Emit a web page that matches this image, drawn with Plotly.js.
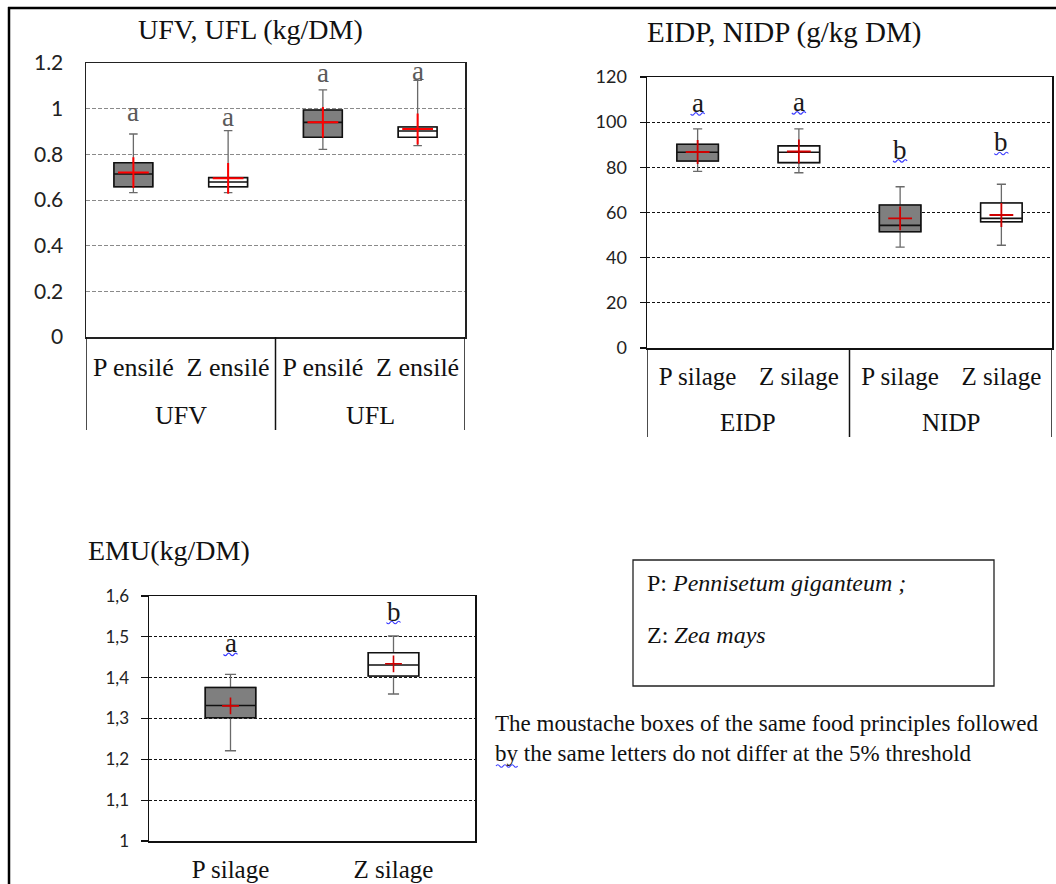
<!DOCTYPE html>
<html>
<head>
<meta charset="utf-8">
<script src="https://cdn.plot.ly/plotly-3.0.1.min.js"></script>
<style>
  html, body { margin: 0; padding: 0; background: #ffffff; }
  #chart { width: 1056px; height: 884px; }
</style>
</head>
<body>
<div id="chart"></div>
<script>
// ---------------- DATA ----------------
// Chart 1 : UFV, UFL (kg/DM)
const ufTitle = 'UFV, UFL (kg/DM)';
const ufCategories = ['P ensilé', 'Z ensilé', 'P ensilé', 'Z ensilé'];
const ufGroups = ['UFV', 'UFL'];
const ufLow    = [0.632, 0.632, 0.822, 0.838];
const ufQ1     = [0.658, 0.658, 0.875, 0.875];
const ufMedian = [0.714, 0.679, 0.940, 0.902];
const ufQ3     = [0.763, 0.698, 0.994, 0.920];
const ufHigh   = [0.889, 0.904, 1.082, 1.124];
const ufMean   = [0.720, 0.695, 0.940, 0.911];
const ufLetters = ['a', 'a', 'a', 'a'];
const ufLetterY = [0.985, 0.965, 1.157, 1.163];

// Chart 2 : EIDP, NIDP (g/kg DM)
const dpTitle = 'EIDP, NIDP (g/kg DM)';
const dpCategories = ['P silage', 'Z silage', 'P silage', 'Z silage'];
const dpGroups = ['EIDP', 'NIDP'];
const dpLow    = [78.2, 77.6, 44.7, 45.5];
const dpQ1     = [82.8, 82.1, 51.5, 55.9];
const dpMedian = [86.7, 86.7, 54.3, 57.4];
const dpQ3     = [90.2, 89.5, 63.3, 64.2];
const dpHigh   = [97.0, 97.0, 71.4, 72.5];
const dpMean   = [86.8, 87.0, 57.4, 58.9];
const dpLetters = ['a', 'a', 'b', 'b'];
const dpLetterY = [108.5, 109.0, 87.7, 91.0];

// Chart 3 : EMU (kg/DM)
const emuTitle = 'EMU(kg/DM)';
const emuCategories = ['P silage', 'Z silage'];
const emuLow    = [1.221, 1.360];
const emuQ1     = [1.302, 1.404];
const emuMedian = [1.332, 1.431];
const emuQ3     = [1.376, 1.461];
const emuHigh   = [1.408, 1.502];
const emuMean   = [1.331, 1.434];
const emuLetters = ['a', 'b'];
const emuLetterY = [1.484, 1.562];
const emuTickVals = [1, 1.1, 1.2, 1.3, 1.4, 1.5, 1.6];
const emuTickText = ['1', '1,1', '1,2', '1,3', '1,4', '1,5', '1,6'];

// Legend / notes
const legendLines = ['P: <i>Pennisetum giganteum ;</i>', 'Z: <i>Zea mays</i>'];
const noteLines = ['The moustache boxes of the same food principles followed',
                   'by the same letters do not differ at the 5% threshold'];

// ---------------- HELPERS ----------------
const W = 1056, H = 884;
const px = v => v / W;
const py = v => 1 - v / H;
const SERIF = 'Liberation Serif, serif';
const SANS = 'Lato, sans-serif';
const GRAYFILL = '#7f7f7f';

const traces = [];
const annotations = [];
const shapes = [];

function addBoxes(xa, ya, cats, low, q1, med, q3, high, mean, width, whiskerColor, meanColor, meanSize, meanWidth) {
  const idx = cats.map((c, i) => i);
  ['P', 'Z'].forEach(sp => {
    const sel = idx.filter(i => cats[i].charAt(0) === sp);
    const pick = arr => sel.map(i => arr[i]);
    const fill = sp === 'P' ? GRAYFILL : '#ffffff';
    // whiskers (grey)
    traces.push({
      type: 'box', xaxis: xa, yaxis: ya, x: sel,
      lowerfence: pick(low), q1: pick(q1), median: pick(med), q3: pick(q3), upperfence: pick(high),
      width: width, whiskerwidth: 0.22, fillcolor: fill,
      line: { color: whiskerColor, width: 1.3 }, boxpoints: false, showlegend: false, hoverinfo: 'skip'
    });
    // box body (black outline)
    traces.push({
      type: 'box', xaxis: xa, yaxis: ya, x: sel,
      lowerfence: pick(q1), q1: pick(q1), median: pick(med), q3: pick(q3), upperfence: pick(q3),
      width: width, whiskerwidth: 0, fillcolor: fill,
      line: { color: '#111111', width: 1.6 }, boxpoints: false, showlegend: false, hoverinfo: 'skip'
    });
  });
  traces.push({
    type: 'scatter', mode: 'markers', xaxis: xa, yaxis: ya, x: idx, y: mean,
    marker: { symbol: 'cross-thin', size: meanSize, color: meanColor, line: { color: meanColor, width: meanWidth } },
    showlegend: false, hoverinfo: 'skip'
  });
}

function addLetters(xr, yr, letters, ys, color, squiggle) {
  letters.forEach((t, i) => {
    annotations.push({
      xref: xr, yref: yr, x: i, y: ys[i], text: t, showarrow: false,
      xanchor: 'center', yanchor: 'middle',
      font: { family: SERIF, size: 27, color: color }
    });
    if (squiggle) {
      shapes.push({
        type: 'path', xref: xr, yref: yr, xsizemode: 'pixel', ysizemode: 'pixel',
        xanchor: i, yanchor: ys[i],
        path: 'M-7,-11 Q-5.25,-13.5 -3.5,-11 T0,-11 T3.5,-11 T7,-11',
        line: { color: '#3a3aff', width: 1.2 }
      });
    }
  });
}

// group labels + dividers
function groupTable(xr, groups, perGroup, topPix, bottomPix, labelPix, size) {
  groups.forEach((g, gi) => {
    annotations.push({
      xref: xr, yref: 'paper', x: gi * perGroup + (perGroup - 1) / 2, y: py(labelPix), text: g,
      showarrow: false, xanchor: 'center', yanchor: 'middle',
      font: { family: SERIF, size: size, color: '#111' }
    });
  });
  for (let gi = 0; gi <= groups.length; gi++) {
    shapes.push({
      type: 'line', xref: xr, yref: 'paper', x0: gi * perGroup - 0.5, x1: gi * perGroup - 0.5,
      y0: py(topPix), y1: py(bottomPix), line: { color: '#111', width: 1.5 }
    });
  }
}

// ---------------- CHART 1 ----------------
addBoxes('x', 'y', ufCategories, ufLow, ufQ1, ufMedian, ufQ3, ufHigh, ufMean, 0.41, '#6a6a6a', '#ff0000', 22, 2);
addLetters('x', 'y', ufLetters, ufLetterY, '#5a5a5a', false);
groupTable('x', ufGroups, 2, 337, 430, 415, 26);

// ---------------- CHART 2 ----------------
addBoxes('x2', 'y2', dpCategories, dpLow, dpQ1, dpMedian, dpQ3, dpHigh, dpMean, 0.41, '#6a6a6a', '#d00000', 17, 1.8);
addLetters('x2', 'y2', dpLetters, dpLetterY, '#1a1a1a', true);
groupTable('x2', dpGroups, 2, 348, 437, 422, 25);

// ---------------- CHART 3 ----------------
addBoxes('x3', 'y3', emuCategories, emuLow, emuQ1, emuMedian, emuQ3, emuHigh, emuMean, 0.31, '#6a6a6a', '#d00000', 12, 1.6);
addLetters('x3', 'y3', emuLetters, emuLetterY, '#1a1a1a', true);

// titles
annotations.push({ xref: 'paper', yref: 'paper', x: px(250), y: py(30), text: ufTitle, showarrow: false,
  xanchor: 'center', yanchor: 'middle', font: { family: SERIF, size: 28, color: '#111' } });
annotations.push({ xref: 'paper', yref: 'paper', x: px(784), y: py(33), text: dpTitle, showarrow: false,
  xanchor: 'center', yanchor: 'middle', font: { family: SERIF, size: 29, color: '#111' } });
annotations.push({ xref: 'paper', yref: 'paper', x: px(86), y: py(550), text: emuTitle, showarrow: false,
  xanchor: 'left', yanchor: 'middle', font: { family: SERIF, size: 28, color: '#111' } });

// legend box and text
shapes.push({ type: 'rect', xref: 'paper', yref: 'paper', x0: px(633), x1: px(994), y0: py(560), y1: py(686),
  line: { color: '#222', width: 1.3 }, fillcolor: 'rgba(0,0,0,0)' });
legendLines.forEach((t, i) => {
  annotations.push({ xref: 'paper', yref: 'paper', x: px(645), y: py(583 + i * 52), text: t, showarrow: false,
    xanchor: 'left', yanchor: 'middle', font: { family: SERIF, size: 24, color: '#111' } });
});
noteLines.forEach((t, i) => {
  annotations.push({ xref: 'paper', yref: 'paper', x: px(493), y: py(723 + i * 30), text: t, showarrow: false,
    xanchor: 'left', yanchor: 'middle', font: { family: SERIF, size: 23, color: '#111' } });
});
// squiggle under "by"
shapes.push({ type: 'path', xref: 'paper', yref: 'paper', xsizemode: 'pixel', ysizemode: 'pixel',
  xanchor: px(496), yanchor: py(766),
  path: 'M0,0 Q1.8,2.5 3.6,0 T7.2,0 T10.8,0 T14.4,0 T18,0 T21.6,0',
  line: { color: '#3a3aff', width: 1.2 } });

// outer frame
shapes.push({ type: 'line', xref: 'paper', yref: 'paper', x0: px(8), x1: 1, y0: py(8), y1: py(8), line: { color: '#000', width: 2.5 } });
shapes.push({ type: 'line', xref: 'paper', yref: 'paper', x0: px(9), x1: px(9), y0: py(7), y1: 0, line: { color: '#000', width: 2.5 } });

// ---------------- LAYOUT ----------------
const layout = {
  width: W, height: H,
  margin: { l: 0, r: 0, t: 0, b: 0, pad: 0 },
  paper_bgcolor: '#ffffff', plot_bgcolor: '#ffffff',
  boxmode: 'overlay', showlegend: false,
  font: { family: SANS, color: '#222' },
  xaxis: {
    domain: [px(86), px(465)], anchor: 'y', range: [-0.5, 3.5],
    tickmode: 'array', tickvals: ufCategories.map((c, i) => i), ticktext: ufCategories,
    tickfont: { family: SERIF, size: 26, color: '#111' }, ticks: '', ticklabelstandoff: 6,
    showgrid: false, zeroline: false, showline: true, mirror: true, linecolor: '#222', linewidth: 1.5, fixedrange: true
  },
  yaxis: {
    domain: [py(337), py(63)], anchor: 'x', range: [0, 1.2], dtick: 0.2, tick0: 0,
    tickfont: { family: SANS, size: 21, color: '#222' }, ticks: '', ticklabelstandoff: 17,
    showgrid: true, gridcolor: '#8a8a8a', gridwidth: 1, griddash: '4px,2px', zeroline: false,
    showline: true, mirror: true, linecolor: '#222', linewidth: 1.5, fixedrange: true
  },
  xaxis2: {
    domain: [px(647), px(1052)], anchor: 'y2', range: [-0.5, 3.5],
    tickmode: 'array', tickvals: dpCategories.map((c, i) => i), ticktext: dpCategories,
    tickfont: { family: SERIF, size: 25, color: '#111' }, ticks: '', ticklabelstandoff: 5,
    showgrid: false, zeroline: false, showline: true, mirror: true, linecolor: '#111', linewidth: 1.5, fixedrange: true
  },
  yaxis2: {
    domain: [py(348), py(77)], anchor: 'x2', range: [0, 120], dtick: 20, tick0: 0,
    tickfont: { family: SANS, size: 18, color: '#222' }, ticks: 'outside', ticklen: 6, tickwidth: 1.3, tickcolor: '#111',
    ticklabelstandoff: 9,
    showgrid: true, gridcolor: '#111', gridwidth: 1.2, griddash: '3px,2px', zeroline: false,
    showline: true, mirror: true, linecolor: '#111', linewidth: 1.5, fixedrange: true
  },
  xaxis3: {
    domain: [px(149), px(475)], anchor: 'y3', range: [-0.5, 1.5],
    tickmode: 'array', tickvals: emuCategories.map((c, i) => i), ticktext: emuCategories,
    tickfont: { family: SERIF, size: 25, color: '#111' }, ticks: '', ticklabelstandoff: 5,
    showgrid: false, zeroline: false, showline: true, mirror: true, linecolor: '#111', linewidth: 1.5, fixedrange: true
  },
  yaxis3: {
    domain: [py(841), py(596)], anchor: 'x3', range: [1, 1.6],
    tickmode: 'array', tickvals: emuTickVals, ticktext: emuTickText,
    tickfont: { family: SANS, size: 17, color: '#222' }, ticks: 'outside', ticklen: 7, tickwidth: 1.3, tickcolor: '#111',
    ticklabelstandoff: 8,
    showgrid: true, gridcolor: '#111', gridwidth: 1.2, griddash: '3px,2px', zeroline: false,
    showline: true, mirror: true, linecolor: '#111', linewidth: 1.5, fixedrange: true
  },
  annotations: annotations,
  shapes: shapes
};

Plotly.newPlot('chart', traces, layout, { staticPlot: true, displayModeBar: false });
</script>
</body>
</html>
